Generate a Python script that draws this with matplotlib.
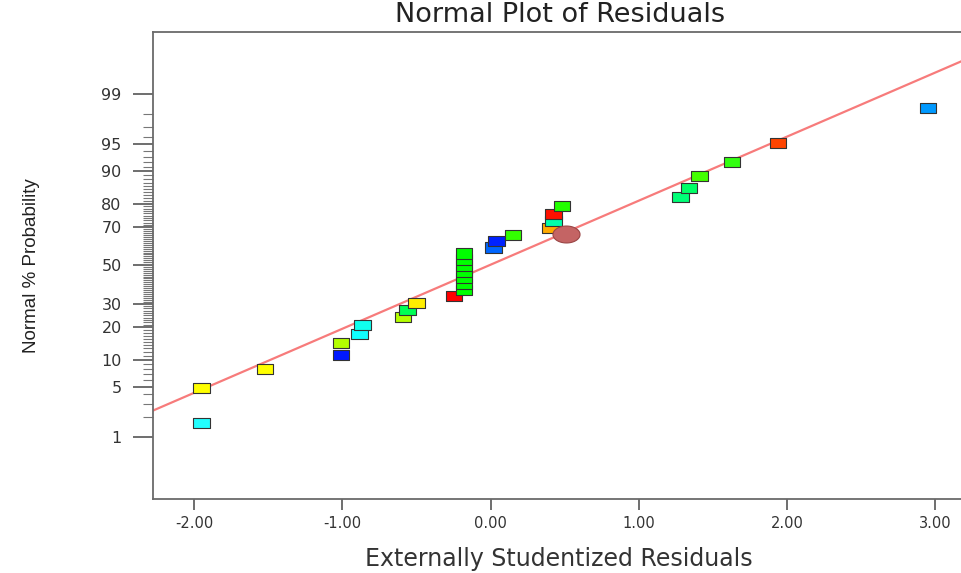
import numpy as np
import matplotlib
matplotlib.use("Agg")
import matplotlib.pyplot as plt
from matplotlib.ticker import FixedLocator, NullFormatter
from matplotlib.path import Path
from statistics import NormalDist

# residuals (x) and normal % probability (y)
resid = [-1.95, -1.95, -1.52, -1.01, -1.01, -0.885, -0.865, -0.59, -0.56, -0.50,
         -0.245, -0.18, -0.18, -0.18, -0.18, -0.18, -0.18, -0.18, 0.02, 0.04,
         0.15, 0.405, 0.425, 0.425, 0.48, 1.28, 1.34, 1.41, 1.63, 1.94, 2.95]
prob = [1.61, 4.84, 8.06, 11.29, 14.52, 17.74, 20.97, 24.19, 27.42, 30.65,
        33.87, 37.10, 40.32, 43.55, 46.77, 50.00, 53.23, 56.45, 59.68, 62.90,
        66.13, 69.35, 72.58, 75.81, 79.03, 82.26, 85.48, 88.71, 91.94, 95.16, 98.39]
colors = ["#22ffff", "#ffff00", "#ffff00", "#0018ff", "#b4ff00", "#10ffff", "#10ffee",
          "#b4ff00", "#00ff55", "#ffee00", "#ff0000", "#00ff00", "#00ff00", "#00ff00",
          "#00ff00", "#00ff00", "#00ff00", "#00ff00", "#0066ff", "#0022ff", "#33ff00",
          "#ffaa00", "#00ffaa", "#ff1100", "#22ff00", "#00ff77", "#00ff66", "#44ff00",
          "#33ff11", "#ff4400", "#0099ff"]

# fitted line and highlighted point
line_x = [-2.30, 3.20]
line_prob = [2.33, 99.74]
mark_x = [0.51]
mark_prob = [66.8]

y_major = [1, 5, 10, 20, 30, 50, 70, 80, 90, 95, 99]
y_minor = list(range(1, 100))
x_ticks = [-2, -1, 0, 1, 2, 3]

_nd = NormalDist()


def probit(p):
    p = np.clip(np.asarray(p, dtype=float), 1e-9, 100 - 1e-9)
    return np.vectorize(lambda v: _nd.inv_cdf(v / 100.0))(p)


def inv_probit(z):
    z = np.asarray(z, dtype=float)
    return np.vectorize(lambda v: _nd.cdf(v) * 100.0)(z)


rect = Path([(-0.8, -0.5), (0.8, -0.5), (0.8, 0.5), (-0.8, 0.5), (-0.8, -0.5)],
            [Path.MOVETO, Path.LINETO, Path.LINETO, Path.LINETO, Path.CLOSEPOLY])
t = np.linspace(0, 2 * np.pi, 60)
ellipse = Path(np.column_stack([0.8 * np.cos(t), 0.5 * np.sin(t)]))

fig = plt.figure(figsize=(9.61, 5.73), dpi=100)
ax = fig.add_axes([0.1592, 0.1291, 0.845, 0.8151])
ax.set_yscale("function", functions=(probit, inv_probit))

ax.plot(line_x, line_prob, color="#f77b7b", lw=1.6, zorder=2)
ax.scatter(resid, prob, marker=rect, s=140, c=colors, edgecolors="#333333",
           linewidths=0.8, zorder=3)
ax.scatter(mark_x, mark_prob, marker=ellipse, s=380, c="#c46464",
           edgecolors="#9a4545", linewidths=0.8, zorder=4)

ax.set_xlim(-2.277, 3.20)
ax.set_ylim(0.076, 99.924)

ax.yaxis.set_major_locator(FixedLocator(y_major))
ax.yaxis.set_minor_locator(FixedLocator(y_minor))
ax.yaxis.set_minor_formatter(NullFormatter())
ax.set_yticklabels([str(v) for v in y_major])
ax.set_xticks(x_ticks)
ax.set_xticklabels(["%.2f" % v for v in x_ticks])

ax.spines["right"].set_visible(False)
for s in ["left", "bottom", "top"]:
    ax.spines[s].set_color("#6a6a6a")
    ax.spines[s].set_linewidth(1.3)

ax.tick_params(axis="y", which="major", length=14.5, width=1.2, color="#555555",
               labelsize=11.5, labelcolor="#333333", pad=8)
ax.tick_params(axis="y", which="minor", length=7, width=0.8, color="#777777")
ax.tick_params(axis="x", which="major", length=8, width=1.2, color="#555555",
               labelsize=10.5, labelcolor="#333333", pad=4)

ax.set_xlabel("Externally Studentized Residuals", fontsize=17, color="#333333",
              labelpad=12)
ax.set_ylabel("Normal % Probability", fontsize=13.5, color="#222222",
              family="Liberation Sans", labelpad=44)
fig.text(0.583, 0.974, "Normal Plot of Residuals", ha="center", va="center",
         fontsize=19.5, color="#222222")

fig.savefig("out.png", dpi=100)
